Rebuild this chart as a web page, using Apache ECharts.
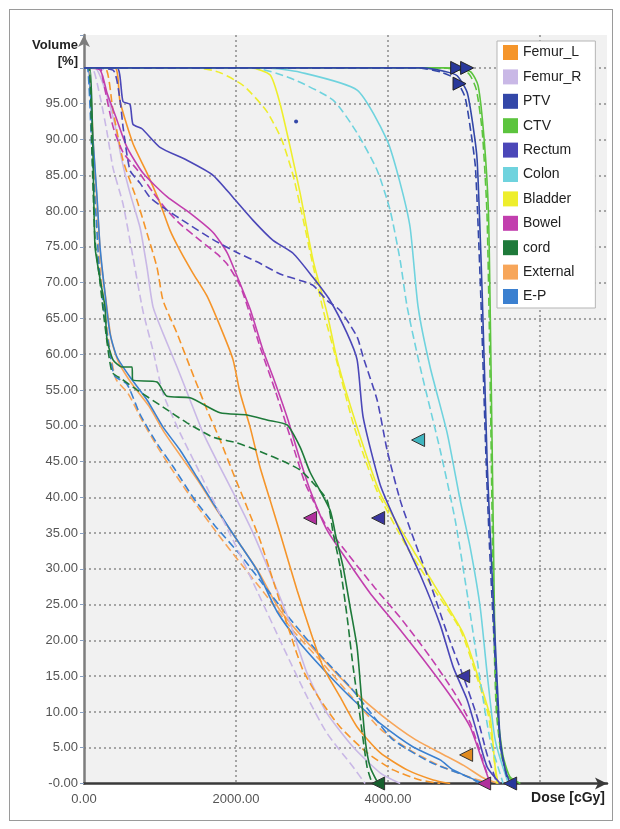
<!DOCTYPE html>
<html>
<head>
<meta charset="utf-8">
<script src="https://cdn.jsdelivr.net/npm/echarts@6/dist/echarts.min.js"></script>
<style>
  html, body { margin: 0; padding: 0; background: #ffffff; }
  #wrap { position: relative; width: 620px; height: 829px; }
  #chart { position: absolute; left: 0; top: 0; width: 620px; height: 829px; }
  #frame { position: absolute; left: 9px; top: 9px; width: 602px; height: 810px; border: 1px solid #9a9a9a; pointer-events: none; }
</style>
</head>
<body>
<div id="wrap"><div id="chart"></div><div id="frame"></div></div>
<script>
// ---- Data: [dose (cGy), volume (%)] ----
const structureNames = ['Femur_L','Femur_R','PTV','CTV','Rectum','Colon','Bladder','Bowel','cord','External','E-P'];
const xTicks = [0, 2000, 4000, 6000];
const yTicks = [0,5,10,15,20,25,30,35,40,45,50,55,60,65,70,75,80,85,90,95];

const femurLSolid = [[0,100],[408,100],[474,95.3],[645,89.4],[829,85.3],[1000,81.1],[1132,77.3],[1263,74.5],[1434,71.3],[1619,68.1],[1829,62.9],[1961,59.2],[2053,54.6],[2185,49.8],[2316,44.2],[2448,39.6],[2579,35.0],[2803,27.0],[2974,21.4],[3145,16.3],[3369,12.1],[3593,7.9],[3895,4.3],[4251,1.9],[4593,0.5],[4817,0]];
const femurLDashed = [[0,100],[276,100],[382,94],[513,87.1],[697,81.5],[829,76.9],[961,72.1],[1040,67.5],[1224,62.9],[1395,58.2],[1619,52.2],[1790,48.0],[1961,43.4],[2145,38.6],[2316,34.0],[2487,28.4],[2711,21.0],[2882,15.8],[3106,11.7],[3369,7.9],[3724,4.3],[4067,1.9],[4422,0.5],[4685,0]];
const femurRSolid = [[0,100],[145,100],[276,97],[408,92],[500,87],[605,82.5],[737,77.7],[829,72.1],[908,66.6],[1040,62.9],[1224,58.2],[1395,53.6],[1566,49.0],[1790,44.2],[2013,39.6],[2224,35.0],[2448,29.4],[2711,22.4],[2935,15.4],[3198,9.8],[3540,5.1],[3895,1.5],[4159,0]];
const femurRDashed = [[0,100],[105,100],[211,96],[303,91],[382,86],[513,81],[645,73.5],[776,66],[908,60.5],[1040,54.5],[1263,49.0],[1487,44.2],[1698,39.6],[1961,34.0],[2290,26.6],[2619,19.1],[2935,12.1],[3198,7.0],[3540,2.3],[3698,0]];
const ptvSolid = [[0,100],[4450,100],[4750,99.5],[4909,98.9],[5040,96.6],[5119,91.8],[5172,87.1],[5238,68.5],[5304,44.8],[5343,35],[5400,22],[5450,11],[5475,6.1],[5540,2],[5606,0]];
const ptvDashed = [[0,100],[4400,100],[4700,99.4],[4880,98.5],[5010,96],[5090,91],[5150,86],[5220,68],[5290,45],[5335,33],[5390,21],[5445,10],[5480,5],[5560,1],[5600,0]];
const ctvSolid = [[0,100],[4750,100],[5080,99.5],[5185,97.5],[5264,90],[5320,80],[5345,65],[5365,50],[5385,35],[5405,20],[5440,10],[5510,4],[5600,1],[5740,0]];
const ctvDashed = [[0,100],[4700,100],[5050,99.3],[5160,97],[5240,91],[5300,80],[5330,65],[5352,50],[5372,35],[5395,20],[5425,10],[5490,4],[5580,1],[5680,0]];
const rectumSolid = [[0,100],[434,100],[513,95.3],[605,94.9],[645,92.1],[763,91.5],[1000,88.9],[1355,87.1],[1698,85.0],[1961,81.9],[2224,78.7],[2487,75.9],[2750,74.1],[3014,70.7],[3237,67.5],[3461,62.9],[3593,59.2],[3672,51.2],[3895,41.8],[4119,36.2],[4422,29.2],[4685,22.2],[4856,16.3],[5040,11.7],[5172,7.0],[5304,2.3],[5475,0]];
const rectumDashed = [[0,100],[382,99.7],[474,95.5],[513,91.8],[605,85.7],[737,83.9],[869,81.9],[1040,80.5],[1355,78.3],[1698,76.0],[2013,74.2],[2277,72.9],[2579,71.2],[2843,70.3],[3014,69.6],[3198,67.5],[3369,66.1],[3593,62.4],[3672,59.6],[3856,53.6],[3987,46.6],[4159,39.6],[4330,34.4],[4553,28.0],[4777,21.0],[4988,15.0],[5172,9.3],[5304,4],[5435,0]];
const colonSolid = [[0,100],[2408,100],[2843,99.4],[3593,96.9],[3987,89.9],[4159,83.9],[4290,77.7],[4395,66.6],[4553,58.2],[4777,49.0],[4948,39.6],[5080,33.0],[5211,24.7],[5303,15.4],[5409,6.1],[5567,0.5],[5606,0]];
const colonDashed = [[0,100],[2224,100],[2711,98.6],[3277,95.5],[3593,90.9],[3856,85.7],[4027,80.1],[4159,73.1],[4251,66.6],[4422,58.2],[4685,46.6],[4883,36.8],[5054,25.6],[5211,14.5],[5343,6.1],[5514,0]];
const bladderSolid = [[0,100],[2200,100],[2450,99],[2579,95],[2711,89],[2843,82.5],[3014,73.1],[3198,65.7],[3330,59.2],[3593,49.8],[3895,40.6],[4330,32.6],[4593,28.0],[4988,21.0],[5211,14.0],[5343,9.3],[5409,2.3],[5448,0]];
const bladderDashed = [[0,100],[1500,100],[1800,99.3],[2100,97.5],[2400,94],[2600,90],[2750,85],[2900,78],[3000,73],[3150,66],[3300,60],[3550,50],[3850,41],[4250,33],[4550,28],[4950,21.5],[5180,14.5],[5320,9.5],[5400,3],[5430,0]];
const bowelSolid = [[0,100],[211,99.7],[303,96.5],[434,92.7],[566,88.9],[776,85.3],[1092,82.0],[1395,79.7],[1698,77.0],[1882,74.2],[2013,70.9],[2185,66.3],[2356,60.5],[2487,56.8],[2671,51.2],[2843,45.2],[2974,41],[3198,35.4],[3461,31.2],[3764,26.6],[4119,22.0],[4553,16.1],[4856,11.7],[5080,7.9],[5251,2.8],[5343,0]];
const bowelDashed = [[0,100],[211,100],[250,98.3],[382,91.8],[513,88.2],[697,85.8],[908,82.6],[1092,80.1],[1263,78.2],[1527,75.9],[1750,74.0],[1882,72.6],[2053,69.6],[2185,65.5],[2316,61],[2513,55],[2711,48.5],[2908,42],[3172,36.3],[3461,32.2],[3830,27.3],[4159,23.2],[4553,17.7],[4883,12.5],[5080,8.5],[5238,3.5],[5343,0]];
const cordSolid = [[0,100],[79,100],[118,88],[145,75],[211,70.5],[276,66.6],[303,62],[382,59.2],[500,58.2],[632,58.2],[640,56.4],[961,56.1],[1092,54.1],[1395,53.9],[1790,51.8],[2145,51.5],[2408,50.8],[2671,50.1],[2843,47],[2974,43.5],[3237,38.2],[3316,34.4],[3408,30.3],[3500,24.7],[3593,19],[3650,12],[3700,6],[3764,2.3],[3869,0]];
const cordDashed = [[0,100],[66,100],[105,88],[145,76],[211,70],[276,64],[368,57.5],[500,56.5],[697,55.0],[1040,52.6],[1355,50.4],[1698,48.4],[2013,47.6],[2316,46.4],[2671,44.8],[2843,43.8],[3014,42.0],[3198,39.6],[3277,35.0],[3369,30.3],[3461,23.3],[3540,16.3],[3632,9.3],[3724,2.3],[3790,0]];
const externalSolid = [[0,100],[60,100],[125,89],[180,80],[220,73.5],[290,67.5],[360,62],[450,59],[620,56],[850,52.8],[1060,49],[1290,45.5],[1520,42],[1730,38.5],[1950,35],[2300,29.5],[2560,24.5],[2870,20.5],[3220,16.5],[3560,12.8],[3920,9.5],[4350,6.2],[4700,4.2],[5000,2.5],[5250,0.8],[5450,0]];
const externalDashed = [[0,100],[55,100],[120,87],[175,78],[215,71.5],[280,65.5],[350,60],[420,56.5],[580,54.5],[760,50.8],[980,46.8],[1200,43.2],[1460,39.2],[1750,35],[2080,30.5],[2380,26.5],[2740,21.5],[3140,16.8],[3530,12],[3900,7.6],[4300,4.6],[4700,2.4],[5100,0.8],[5350,0]];
const epSolid = [[0,100],[53,100],[118,90],[171,82],[211,75],[276,68.5],[342,62.9],[434,59.6],[605,56.8],[829,53.6],[1040,49.8],[1263,46.6],[1487,42.8],[1698,39.2],[1921,35.5],[2053,33.4],[2277,29.8],[2540,24.0],[2843,19.6],[3198,15.4],[3540,11.7],[3895,8.4],[4330,5.1],[4685,3.3],[4856,1.9],[5211,0.2],[5277,0]];
const epDashed = [[0,100],[45,100],[105,88],[160,79],[200,72],[265,66],[330,61],[400,57],[566,55.8],[737,51.6],[961,47.5],[1171,44.3],[1434,40],[1724,36],[2053,32],[2343,28],[2711,23],[3106,18],[3500,13.5],[3800,9.5],[4067,6.1],[4553,3],[5080,0.8],[5200,0]];

// Constraint markers: [dose, volume, structure]
const markersLeft = [[4395,48.0,'Colon'],[2974,37.1,'Bowel'],[3869,37.1,'Rectum'],[4988,15.0,'Rectum'],[5027,4.0,'Femur_L'],[3869,0,'cord'],[5264,0,'Bowel'],[5606,0,'PTV']];
const markersRight = [[4909,100,'PTV'],[5040,100,'PTV'],[4940,97.8,'PTV']];
const strayPoints = [[2790,92.5]];

// ---- Styling ----
const colors = {
  'Femur_L':'#F5952A','Femur_R':'#C9B8E6','PTV':'#3347A8','CTV':'#5CC43E','Rectum':'#4B47B8',
  'Colon':'#6FD3DE','Bladder':'#EEEE2C','Bowel':'#C23FAE','cord':'#1E7A3A','External':'#F7A65A','E-P':'#3B80D0'
};
const markerColors = {
  'Colon':'#3FB5BF','Bowel':'#B0309C','Rectum':'#3A36A0','Femur_L':'#E08A1E','cord':'#17602E','PTV':'#28389A'
};
const curves = [
  ['External', externalSolid, externalDashed],
  ['E-P', epSolid, epDashed],
  ['Femur_R', femurRSolid, femurRDashed],
  ['Femur_L', femurLSolid, femurLDashed],
  ['Bladder', bladderSolid, bladderDashed],
  ['Colon', colonSolid, colonDashed],
  ['Bowel', bowelSolid, bowelDashed],
  ['cord', cordSolid, cordDashed],
  ['Rectum', rectumSolid, rectumDashed],
  ['CTV', ctvSolid, ctvDashed],
  ['PTV', ptvSolid, ptvDashed]
];

const series = [];
curves.forEach(function (c) {
  const name = c[0];
  [[c[1], 'solid'], [c[2], [8, 4]]].forEach(function (pair) {
    series.push({
      name: name, type: 'line', data: pair[0], showSymbol: false, smooth: 0.2,
      color: colors[name],
      lineStyle: { color: colors[name], width: 1.6, type: pair[1] },
      emphasis: { disabled: true }, animation: false, z: 2
    });
  });
});
series.push({
  name: 'markersLeft', type: 'scatter', symbol: 'triangle', symbolSize: 13, symbolRotate: 90,
  data: markersLeft.map(function (m) { return { value: [m[0], m[1]], itemStyle: { color: markerColors[m[2]], opacity: 1 } }; }),
  itemStyle: { borderColor: '#333', borderWidth: 1, opacity: 1 }, z: 5, animation: false
});
series.push({
  name: 'markersRight', type: 'scatter', symbol: 'triangle', symbolSize: 13, symbolRotate: -90,
  data: markersRight.map(function (m) { return { value: [m[0], m[1]], itemStyle: { color: markerColors[m[2]], opacity: 1 } }; }),
  itemStyle: { borderColor: '#222', borderWidth: 1, opacity: 1 }, z: 5, animation: false
});
series.push({
  name: 'stray', type: 'scatter', symbolSize: 4, data: strayPoints,
  itemStyle: { color: colors['PTV'], opacity: 1 }, z: 4, animation: false
});

const chart = echarts.init(document.getElementById('chart'), null, { renderer: 'canvas' });
chart.setOption({
  animation: false,
  backgroundColor: '#ffffff',
  grid: { left: 84, right: 13, top: 35, bottom: 45.5, show: true, backgroundColor: '#f1f1f1', borderWidth: 0 },
  legend: {
    data: structureNames, orient: 'vertical', left: 497, top: 41,
    backgroundColor: '#ffffff', borderColor: '#b5b5b5', borderWidth: 1,
    padding: [4, 14, 4, 6], itemGap: 9.4, itemWidth: 15, itemHeight: 15, icon: 'rect',
    textStyle: { fontFamily: 'Liberation Sans', fontSize: 14, color: '#222' },
    selectedMode: false
  },
  xAxis: {
    type: 'value', min: 0, max: 6880, interval: 2000,
    name: 'Dose [cGy]', nameLocation: 'end', nameGap: -2,
    nameTextStyle: { fontFamily: 'Liberation Sans', fontWeight: 'bold', fontSize: 14, color: '#222', align: 'right', verticalAlign: 'top', padding: [8, 0, 0, 0] },
    axisLine: { show: true, lineStyle: { color: '#3a3a3a', width: 2.5 }, symbol: ['none', 'arrow'], symbolSize: [9, 12] },
    axisTick: { show: false },
    axisLabel: {
      fontFamily: 'Liberation Sans', fontSize: 13, color: '#555', margin: 9,
      formatter: function (v) { return xTicks.indexOf(v) >= 0 && v < 6000 ? v.toFixed(2) : ''; }
    },
    splitLine: { show: true, showMinLine: false, showMaxLine: false, lineStyle: { color: '#8c8c8c', width: 1.5, type: [2, 3] } }
  },
  yAxis: {
    type: 'value', min: 0, max: 104.6, interval: 5,
    name: 'Volume\n[%]', nameLocation: 'end', nameGap: 0,
    nameTextStyle: { fontFamily: 'Liberation Sans', fontWeight: 'bold', fontSize: 13, lineHeight: 16, color: '#222', align: 'right', verticalAlign: 'top', padding: [2, 6, 0, 0] },
    axisLine: { show: true, lineStyle: { color: '#7d7d7d', width: 2.5 }, symbol: ['none', 'arrow'], symbolSize: [9, 12] },
    axisTick: { show: true, length: 4, lineStyle: { color: '#8aa0c0' } },
    axisLabel: {
      fontFamily: 'Liberation Sans', fontSize: 13, color: '#555', margin: 6,
      formatter: function (v) {
        if (yTicks.indexOf(v) < 0) return '';
        return v === 0 ? '-0.00' : v.toFixed(2);
      }
    },
    splitLine: { show: true, showMinLine: false, showMaxLine: false, lineStyle: { color: '#8c8c8c', width: 1.5, type: [2, 3] } }
  },
  series: series
});
</script>
</body>
</html>
